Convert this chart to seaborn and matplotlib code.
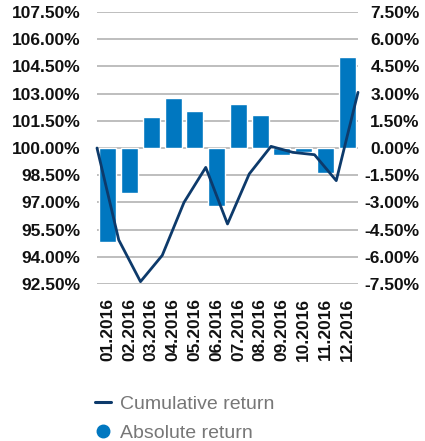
import matplotlib
matplotlib.use("Agg")
import matplotlib.pyplot as plt
from matplotlib.lines import Line2D
import seaborn as sns
import pandas as pd
import numpy as np

months = ["01.2016", "02.2016", "03.2016", "04.2016", "05.2016", "06.2016",
          "07.2016", "08.2016", "09.2016", "10.2016", "11.2016", "12.2016"]
absolute_return = [-5.2, -2.5, 1.69, 2.77, 2.06, -3.22, 2.44, 1.84, -0.39, -0.24, -1.40, 5.04]
# cumulative return: start value + 12 month-end values
cumulative_return = [100.0, 94.93, 92.63, 94.08, 97.0, 98.93, 95.81, 98.57, 100.09, 99.76, 99.63, 98.2, 103.07]
left_ticks = [92.5, 94.0, 95.5, 97.0, 98.5, 100.0, 101.5, 103.0, 104.5, 106.0, 107.5]
right_ticks = [-7.5, -6.0, -4.5, -3.0, -1.5, 0.0, 1.5, 3.0, 4.5, 6.0, 7.5]

BAR_COLOR = "#0077c0"
LINE_COLOR = "#0d3a6b"
GRID_COLOR = "#b9b9b9"
TEXT_COLOR = "#111111"

sns.set_theme(style="white")
plt.rcParams["font.family"] = ["Liberation Sans", "DejaVu Sans"]

fig = plt.figure(figsize=(4.25, 4.41), dpi=100)
ax = fig.add_axes([97/425, 1-284/441, (358-97)/425, (284-12)/441])
ax2 = ax.twinx()

# bars (absolute return) on the primary axes, ticks shown on the right
bar_df = pd.DataFrame({"month": months, "abs": absolute_return})
sns.barplot(data=bar_df, x="month", y="abs", color=BAR_COLOR, saturation=1,
            width=0.78, ax=ax, zorder=2)
ax.set_ylim(-7.5, 7.5)
ax.set_xlim(-0.5, 11.5)
ax.set_yticks(right_ticks)
ax.set_yticklabels([f"{v:.2f}%" for v in right_ticks])
ax.grid(axis="y", color=GRID_COLOR, linewidth=1.3, zorder=0)
ax.set_axisbelow(True)
ax.set_xlabel("")
ax.set_ylabel("")
ax.set_xticks(range(len(months)))
ax.set_xticklabels(months, rotation=90, fontweight="bold", fontsize=12.5, color=TEXT_COLOR)
ax.tick_params(axis="x", length=0, pad=10)
for s in ax.spines.values():
    s.set_visible(False)

# line (cumulative return) on the twin axes, ticks shown on the left
line_df = pd.DataFrame({"pos": np.arange(len(cumulative_return)) - 0.5,
                        "cum": cumulative_return})
sns.lineplot(data=line_df, x="pos", y="cum", color=LINE_COLOR, linewidth=2.0,
             ax=ax2, clip_on=False)
ax2.set_ylim(92.5, 107.5)
ax2.set_xlim(-0.5, 11.5)
ax2.set_yticks(left_ticks)
ax2.set_yticklabels([f"{v:.2f}%" for v in left_ticks])
ax2.set_xlabel("")
ax2.set_ylabel("")
ax2.grid(False)
ax2.tick_params(axis="x", bottom=False, top=False, labelbottom=False, labeltop=False)
for s in ax2.spines.values():
    s.set_visible(False)

# tick sides set after twinx
ax.yaxis.tick_right()
ax.tick_params(axis="y", left=False, right=False, labelleft=False, labelright=True,
               length=0, pad=44.5, labelsize=12.5, labelcolor=TEXT_COLOR)
for lab in ax.get_yticklabels():
    lab.set_horizontalalignment("right")
    lab.set_fontweight("bold")

ax2.yaxis.tick_left()
ax2.tick_params(axis="y", left=False, right=False, labelleft=True, labelright=False,
                length=0, pad=12, labelsize=12.5, labelcolor=TEXT_COLOR)
for lab in ax2.get_yticklabels():
    lab.set_fontweight("bold")

handles = [Line2D([], [], color=LINE_COLOR, linewidth=2.2),
           Line2D([], [], marker="o", linestyle="", color=BAR_COLOR, markersize=9)]
fig.legend(handles, ["Cumulative return", "Absolute return"], loc="upper left",
           bbox_to_anchor=(95/425, 1-395/441), frameon=False, fontsize=14,
           handlelength=0.8, handletextpad=0.5, labelspacing=0.62,
           borderpad=0, borderaxespad=0, labelcolor="#777777")

fig.savefig("out.png", dpi=100)
